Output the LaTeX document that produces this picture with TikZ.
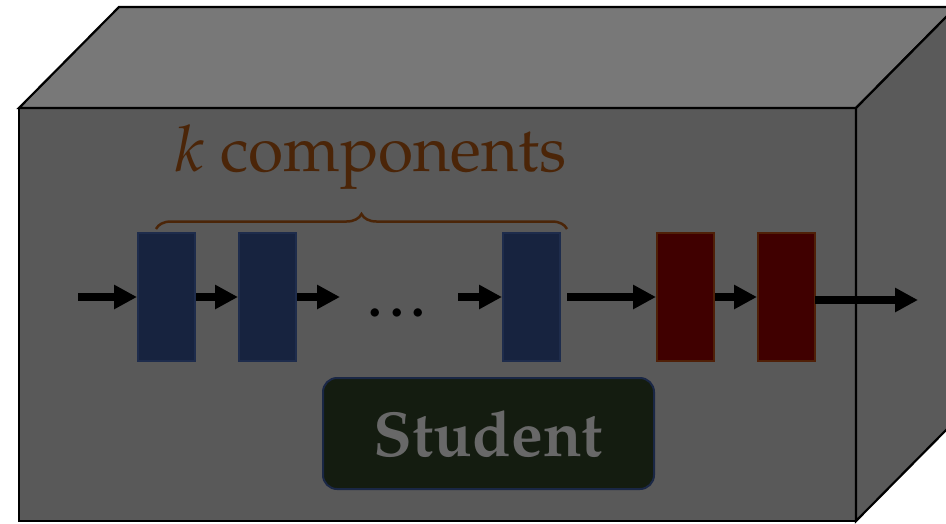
\documentclass[tikz,border=0pt]{standalone}
\usepackage[T1]{fontenc}
\usepackage{mathpazo}
\usetikzlibrary{arrows.meta,decorations.pathreplacing}
\definecolor{topface}{RGB}{120,120,120}
\definecolor{frontface}{RGB}{89,89,89}
\definecolor{sideface}{RGB}{90,90,90}
\definecolor{brownc}{RGB}{75,37,8}
\definecolor{bluefill}{RGB}{23,35,63}
\definecolor{blueedge}{RGB}{30,44,76}
\definecolor{redfill}{RGB}{64,0,0}
\definecolor{rededge}{RGB}{80,32,8}
\definecolor{studfill}{RGB}{20,28,16}
\definecolor{studedge}{RGB}{26,39,69}
\definecolor{studtext}{RGB}{104,104,104}
\tikzset{
  face/.style={draw=black,line width=2.2pt,line join=miter},
  bluebox/.style={draw=blueedge,fill=bluefill,line width=2pt,minimum width=57pt,minimum height=128pt,inner sep=0pt},
  redbox/.style={draw=rededge,fill=redfill,line width=2pt,minimum width=57pt,minimum height=128pt,inner sep=0pt},
  arr/.style={line width=7.5pt,-{Triangle[length=23pt,width=23pt]}},
}
\begin{document}
\begin{tikzpicture}[x=1pt,y=-1pt]
\useasboundingbox (0,0) rectangle (946,523);
% cube
\fill[frontface] (19,108) rectangle (856,521);
\draw[face,fill=topface] (19,108) -- (119,7) -- (956,7) -- (856,108) -- cycle;
\draw[face,fill=sideface] (856,108) -- (956,7) -- (956,420) -- (856,521) -- cycle;
\draw[face,line width=2.8pt] (19,108) rectangle (856,521);
% label and brace
\node[text=brownc,font=\fontsize{64}{72}\selectfont,anchor=base] (lbl) at (371,171) {\textit{k} components};
\draw[brownc,line width=2.5pt,decorate,decoration={brace,amplitude=15pt}] (156,229) -- (567,229);
% components
\node[bluebox] (b1) at (166.5,297) {};
\node[bluebox] (b2) at (267.5,297) {};
\node[bluebox] (b3) at (531.5,297) {};
\node[redbox] (r1) at (685.5,297) {};
\node[redbox] (r2) at (786.5,297) {};
\node[font=\fontsize{54}{60}\selectfont\bfseries,anchor=base,inner sep=0pt] (dots) at (397,316) {.\hspace{8pt}.\hspace{8pt}.};
\coordinate (in) at (78,297);
\coordinate (o2) at (340,297);
\coordinate (i3) at (458,297);
\coordinate (o3) at (567,297);
\coordinate (s7) at (815,300);
\coordinate (out) at (918,300);
\draw[arr] (in) -- (b1.west);
\draw[arr] (b1.east) -- (b2.west);
\draw[arr] (b2.east) -- (o2);
\draw[arr] (i3) -- (b3.west);
\draw[arr] (o3) -- (r1.west);
\draw[arr] (r1.east) -- (r2.west);
\draw[arr] (s7) -- (out);
% student
\node[draw=studedge,fill=studfill,line width=2pt,rounded corners=14pt,minimum width=331pt,minimum height=111pt,inner sep=0pt,text=studtext,font=\fontsize{63.5}{70}\selectfont\bfseries] (stud) at (488.5,433.5) {Student};
\end{tikzpicture}
\end{document}
